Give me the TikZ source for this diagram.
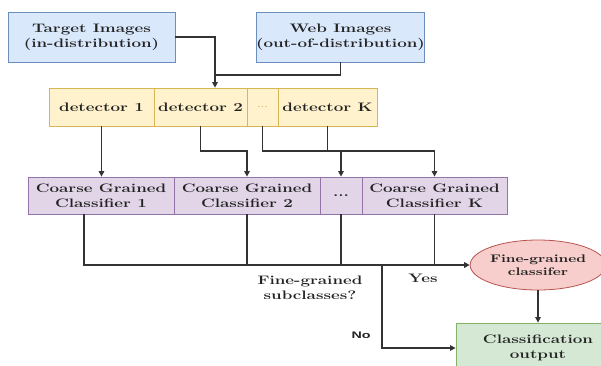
\documentclass[tikz,border=0pt]{standalone}
\usepackage{fontspec}
\setmainfont{Latin Modern Roman}[FakeStretch=1.38]
\newfontfamily\nofont{Liberation Sans}[FakeStretch=1.5]
\usetikzlibrary{shapes.geometric,arrows.meta}
\definecolor{bluef}{HTML}{DAE8FC}\definecolor{blued}{HTML}{6C8EBF}
\definecolor{yelf}{HTML}{FFF2CC}\definecolor{yeld}{HTML}{D6B656}
\definecolor{purf}{HTML}{E1D5E7}\definecolor{purd}{HTML}{9673A6}
\definecolor{redf}{HTML}{F8CECC}\definecolor{redd}{HTML}{B85450}
\definecolor{grnf}{HTML}{D5E8D4}\definecolor{grnd}{HTML}{82B366}
\definecolor{ink}{HTML}{222222}
\definecolor{wire}{HTML}{333333}
\tikzset{
  txt/.style={font=\fontsize{12.3}{15}\selectfont\bfseries, text=ink, align=center, inner sep=0pt},
  inbox/.style={txt, draw=blued, fill=bluef, line width=0.8pt, minimum width=167pt, minimum height=50pt},
  detbox/.style={txt, draw=yeld, fill=yelf, line width=0.8pt, minimum height=38pt},
  clsbox/.style={txt, draw=purd, fill=purf, line width=0.8pt, minimum height=37pt},
  conn/.style={draw=wire, line width=1.3pt},
  arr/.style={conn, -{Triangle[length=5.5pt,width=5.5pt]}},
}
\begin{document}
\begin{tikzpicture}[x=1pt,y=-1pt]
\useasboundingbox (0,0) rectangle (601,365);
\begin{scope}
\clip (0,0) rectangle (601,365);
\node[inbox] (target) at (91.5,37) {Target Images\\(in-distribution)};
\node[inbox] (web) at (340.5,37) {Web Images\\(out-of-distribution)};

\node[detbox, minimum width=105pt] (det1) at (101.5,107) {detector 1};
\node[detbox, minimum width=93pt] (det2) at (200.5,107) {detector 2};
\node[detbox, minimum width=31pt, text=yeld!90!black, font=\fontsize{9}{10}\selectfont] (detd) at (262.5,107) {...};
\node[detbox, minimum width=99pt] (detK) at (327.5,107) {detector K};

\node[clsbox, minimum width=146pt] (c1) at (101,195.5) {Coarse Grained\\Classifier 1};
\node[clsbox, minimum width=146pt] (c2) at (247,195.5) {Coarse Grained\\Classifier 2};
\node[clsbox, minimum width=42pt] (cd) at (341,195.5) {...};
\node[clsbox, minimum width=145pt] (cK) at (434.5,195.5) {Coarse Grained\\Classifier K};

\node[txt, ellipse, draw=redd, fill=redf, line width=0.8pt, minimum width=124pt, minimum height=50pt, font=\fontsize{11}{13.5}\selectfont\bfseries] (fine) at (538,265) {Fine-grained\\classifer};
\node[txt, draw=grnd, fill=grnf, line width=0.8pt, minimum width=164pt, minimum height=50pt] (out) at (538,348) {Classification\\output};
\end{scope}

\coordinate (m1) at (215,75);
\coordinate (m2) at (341,151);
\coordinate (b1) at (382,265);

\draw[arr] (target.east) -| ([xshift=14.5pt]det2.north);
\draw[conn] (web.south) |- (m1);

\draw[arr] (det1.south) -- (det1.south |- c1.north);
\draw[arr] (det2.south) |- (m2 -| c2.north) -- (c2.north);
\draw[arr] (detd.south) |- (m2 -| cK.north) -- (cK.north);
\draw[conn] (detK.south) -- (detK.south |- m2);
\draw[arr] (m2) -- (cd.north);

\draw[arr] ([xshift=-17pt]c1.south) |- (fine.west);
\draw[conn] (c2.south) -- (c2.south |- fine.west);
\draw[conn] (cd.south) -- (cd.south |- fine.west);
\draw[conn] (cK.south) -- (cK.south |- fine.west);
\draw[arr] (b1) |- (out.west);
\draw[arr] (fine.south) -- (out.north);

\node[txt] (q) at (310,288) {Fine-grained\\subclasses?};
\node[txt] (yes) at (423,278) {Yes};
\node[txt, font=\nofont\fontsize{9.5}{12}\selectfont\bfseries] (no) at (361,335.5) {No};
\end{tikzpicture}
\end{document}
